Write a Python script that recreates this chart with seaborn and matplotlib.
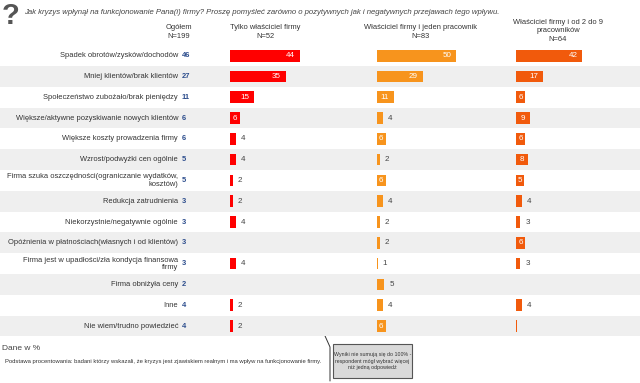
import numpy as np
import pandas as pd
import matplotlib
matplotlib.use("Agg")
import matplotlib.pyplot as plt
import seaborn as sns

# ---- data ----
categories = [
    "Spadek obrotów/zysków/dochodów",
    "Mniej klientów/brak klientów",
    "Społeczeństwo zubożało/brak pieniędzy",
    "Większe/aktywne pozyskiwanie nowych klientów",
    "Większe koszty prowadzenia firmy",
    "Wzrost/podwyżki cen ogólnie",
    "Firma szuka oszczędności(ograniczanie wydatków,\nkosztów)",
    "Redukcja zatrudnienia",
    "Niekorzystnie/negatywnie ogólnie",
    "Opóźnienia w płatnościach(własnych i od klientów)",
    "Firma jest w upadłości/zła kondycja finansowa\nfirmy",
    "Firma obniżyła ceny",
    "Inne",
    "Nie wiem/trudno powiedzieć",
]
ogolem = [46, 27, 11, 6, 6, 5, 5, 3, 3, 3, 3, 2, 4, 4]
tylko_wlasciciel = [44, 35, 15, 6, 4, 4, 2, 2, 4, np.nan, 4, np.nan, 2, 2]
jeden_pracownik = [50, 29, 11, 4, 6, 2, 6, 4, 2, 2, 1, 5, 4, 6]
od_2_do_9 = [42, 17, 6, 9, 6, 8, 5, 4, 3, 6, 3, np.nan, 4, 1]

group_headers = [
    "Tylko właściciel firmy\nN=52",
    "Właściciel firmy i jeden pracownik\nN=83",
    "Właściciel firmy i od 2 do 9\npracowników\nN=64",
]
group_values = [tylko_wlasciciel, jeden_pracownik, od_2_do_9]
group_colors = ["#FF0000", "#F7941D", "#F15A0C"]
inside_min = [5, 6, 5]            # smallest value whose label sits inside the bar
unlabeled = {(2, 13)}             # bar shown without a number

title = ("Jak kryzys wpłynął na funkcjonowanie Pana(i) firmy? Proszę pomyśleć zarówno "
         "o pozytywnych jak i negatywnych przejawach tego wpływu.")
note_box = "Wyniki nie sumują się do 100% -\nrespondent mógł wybrać więcej\nniż jedną odpowiedź"
footer1 = "Dane w %"
footer2 = ("Podstawa procentowania: badani którzy wskazali, że kryzys jest zjawiskiem "
           "realnym i ma wpływ na funkcjonowanie firmy.")

# ---- layout ----
W, H = 640, 383
sns.set_theme(style="white")
plt.rcParams["font.family"] = ["Liberation Sans", "DejaVu Sans"]

fig = plt.figure(figsize=(W / 100, H / 100), dpi=100)
row_top, row_bot = 45.3, 336.4
rect_y = (H - row_bot) / H
rect_h = (row_bot - row_top) / H
n = len(categories)
fs = 5.45

# background / text layer in pixel coordinates
bg = fig.add_axes([0, 0, 1, 1])
bg.set_xlim(0, W)
bg.set_ylim(H, 0)
bg.axis("off")

# row layer: bands, labels, totals
rows = fig.add_axes([0, rect_y, 1, rect_h])
rows.set_xlim(0, W)
rows.set_ylim(n - 0.5, -0.5)
rows.axis("off")
for i, (cat, tot) in enumerate(zip(categories, ogolem)):
    if i % 2 == 1:
        rows.axhspan(i - 0.5, i + 0.5, color="#EFEFEF", lw=0)
    rows.text(178, i, cat, ha="right", va="center", fontsize=fs,
              color="#333333", linespacing=1.05)
    rows.text(182, i, str(tot), ha="left", va="center", fontsize=fs,
              color="#2B4C8C", fontweight="bold")

# bar groups
px_per_unit = 1.59
starts = [230, 376.5, 515.7]
widths = [130, 125, 120]
for g, (vals, color) in enumerate(zip(group_values, group_colors)):
    ax = fig.add_axes([starts[g] / W, rect_y, widths[g] / W, rect_h])
    df = pd.DataFrame({"cat": categories, "val": vals})
    sns.barplot(data=df, x="val", y="cat", order=categories, color=color,
                width=0.56, saturation=1, linewidth=0, ax=ax)
    ax.set_xlim(0, widths[g] / px_per_unit)
    ax.set_ylim(n - 0.5, -0.5)
    ax.axis("off")
    ax.patch.set_alpha(0)
    for i, v in enumerate(vals):
        if np.isnan(v) or (g, i) in unlabeled:
            continue
        if v >= inside_min[g]:
            if v >= 10:
                ax.text(v - 3, i, f"{v:.0f}", ha="right", va="center",
                        fontsize=5.8, color="white")
            else:
                ax.text(v / 2, i, f"{v:.0f}", ha="center", va="center",
                        fontsize=5.8, color="white")
        else:
            ax.text(v + 3, i, f"{v:.0f}", ha="left", va="center",
                    fontsize=5.8, color="#444444")

# header texts
bg.text(11, 16, "?", ha="center", va="center", fontsize=21, fontweight="bold",
        color="#555555")
bg.text(24, 12, title, ha="left", va="center", fontsize=5.55, style="italic",
        color="#444444")
bg.text(179, 32, "Ogółem\nN=199", ha="center", va="center", fontsize=fs,
        color="#333333", linespacing=1.25)
header_x = [265, 420, 558]
header_y = [32, 32, 31]
for hx, hy, txt in zip(header_x, header_y, group_headers):
    bg.text(hx, hy, txt, ha="center", va="center", fontsize=fs,
            color="#333333", linespacing=1.25)

# footer
bg.text(2, 349, footer1, ha="left", va="center", fontsize=6, color="#444444")
bg.text(5, 362, footer2, ha="left", va="center", fontsize=4.2, color="#333333")
bg.plot([321, 330, 330], [327, 347, 381], color="#333333", lw=0.7)
bg.add_patch(plt.Rectangle((333, 344), 79, 34, facecolor="#D9D9D9",
                           edgecolor="#555555", lw=0.8))
bg.text(372.5, 361, note_box, ha="center", va="center", fontsize=3.8,
        color="#333333", linespacing=1.35)

fig.savefig("out.png", dpi=100)
